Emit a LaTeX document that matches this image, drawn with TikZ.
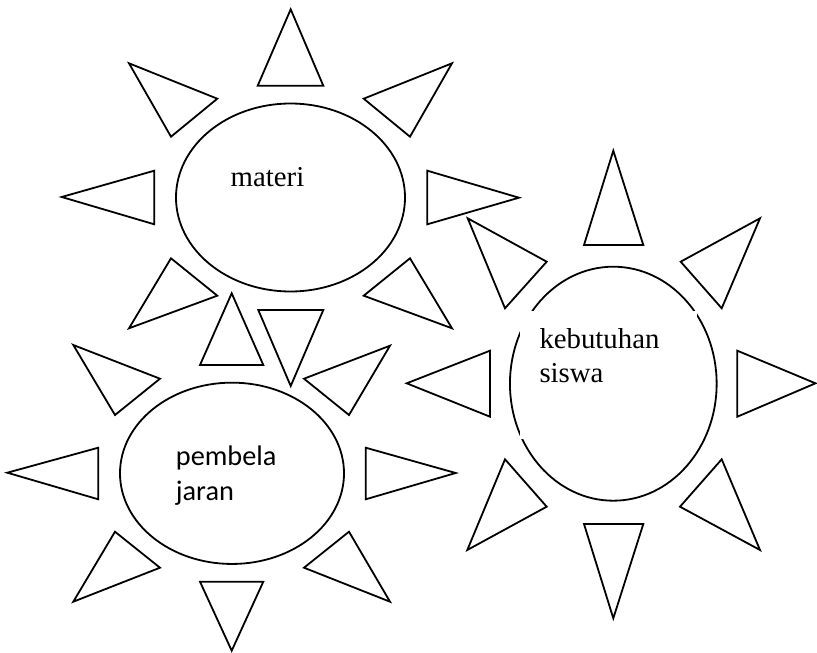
\documentclass[tikz,border=0pt]{standalone}
\usepackage{fontspec}
\setmainfont{Liberation Serif}
\newfontfamily\calibrifont{Carlito}
\usetikzlibrary{shapes.geometric}
\begin{document}
\begin{tikzpicture}[x=1pt,y=-1pt,
  ray/.style={draw=black,line width=1.8pt,line join=miter},
  sunbody/.style={draw=black,line width=1.8pt,ellipse,inner sep=0pt,outer sep=0pt},
  serlabel/.style={anchor=base west,inner sep=0pt,font=\fontsize{28.8}{34}\selectfont},
  sanslabel/.style={anchor=base west,inner sep=0pt,font=\calibrifont\fontsize{28.3}{35}\selectfont}]
\useasboundingbox (0,0) rectangle (817,653);

% Sun 1 : materi
\node[sunbody,minimum width=229pt,minimum height=188pt] (e1) at (290.5,197.5) {};
\draw[ray] (290.7,9.3) -- (257.7,85.7) -- (323.3,85.7) -- cycle;
\draw[ray] (129,63.3) -- (217.3,98.7) -- (171,136.7) -- cycle;
\draw[ray] (452,63.3) -- (363.7,98.7) -- (410,136.7) -- cycle;
\draw[ray] (61.7,197) -- (154.3,170.7) -- (154.3,224.3) -- cycle;
\draw[ray] (519,197.7) -- (427.3,170.7) -- (427.3,224.3) -- cycle;
\draw[ray] (171,258.3) -- (217.3,295.7) -- (129,328.3) -- cycle;
\draw[ray] (410,258.3) -- (363.7,295.7) -- (452,328.3) -- cycle;
\draw[ray] (258.3,310) -- (323.3,310) -- (290.7,386) -- cycle;
\node[serlabel] (t1) at (230.5,186.3) {materi};

% Sun 2 : pembelajaran
\node[sunbody,minimum width=224pt,minimum height=181.3pt] (e2) at (232,473.3) {};
\draw[ray] (231.7,293.3) -- (200,365) -- (263.3,365) -- cycle;
\draw[ray] (73.3,345) -- (160,378.7) -- (115,415) -- cycle;
\draw[ray] (390,345.7) -- (304,378.7) -- (349,415) -- cycle;
\draw[ray] (7.3,472.7) -- (98.3,447.7) -- (98.3,499.3) -- cycle;
\draw[ray] (455.7,473) -- (365.7,447.7) -- (365.7,499.3) -- cycle;
\draw[ray] (115,531.7) -- (160,567.7) -- (73.3,601.7) -- cycle;
\draw[ray] (349,531.7) -- (304,567.7) -- (390,601.7) -- cycle;
\draw[ray] (200,581.7) -- (263.3,581.7) -- (231.7,650.7) -- cycle;
\node[sanslabel] (t2a) at (175.7,465.7) {pembela};
\node[sanslabel] (t2b) at (175.7,500.7) {jaran};

% Sun 3 : kebutuhan siswa
\node[sunbody,minimum width=206.7pt,minimum height=234pt] (e3) at (613.3,383.7) {};
\node[fill=white,inner sep=0pt,minimum width=177pt,minimum height=128pt] (box3) at (608.5,375) {};
\draw[ray] (613.3,150.7) -- (584,245) -- (643.3,245) -- cycle;
\draw[ray] (467.7,218.3) -- (546.7,261.7) -- (505,308.3) -- cycle;
\draw[ray] (760,218.3) -- (680.7,261.7) -- (721.7,308.3) -- cycle;
\draw[ray] (406.7,383.3) -- (490,350.7) -- (490,416.7) -- cycle;
\draw[ray] (815.5,383.3) -- (737.3,350.7) -- (737.3,416.7) -- cycle;
\draw[ray] (505,459.3) -- (546.7,506.7) -- (467.3,550) -- cycle;
\draw[ray] (721.7,459.3) -- (680,506.7) -- (760,550) -- cycle;
\draw[ray] (584,524) -- (643.3,524) -- (613.3,618.3) -- cycle;
\node[serlabel] (t3a) at (539.3,348.3) {kebutuhan};
\node[serlabel] (t3b) at (539.3,382.3) {siswa};
\end{tikzpicture}
\end{document}
